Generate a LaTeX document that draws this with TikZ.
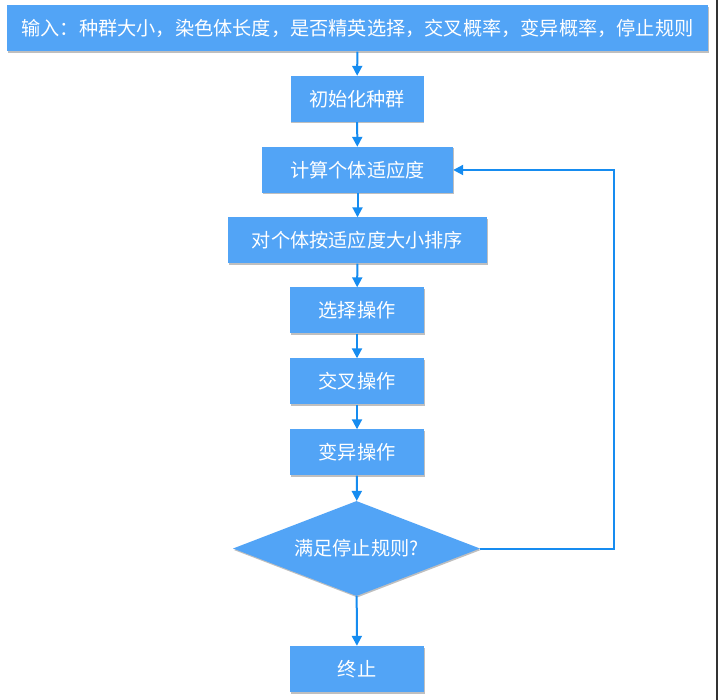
\documentclass[tikz,border=0pt]{standalone}
\usepackage{fontspec}
\newfontfamily\cjk{Noto Sans CJK SC}
\usetikzlibrary{shapes.geometric, arrows.meta, shadows}
\definecolor{boxblue}{RGB}{82,164,246}
\definecolor{lineblue}{RGB}{22,140,240}

\begin{document}
\begin{tikzpicture}[x=1pt, y=-1pt, font=\cjk\fontsize{19.2}{23}\selectfont,
    box/.style={rectangle, fill=boxblue, text=white, inner sep=0pt,
        minimum height=46pt,
        drop shadow={shadow xshift=0.8pt, shadow yshift=-1.5pt, opacity=0.25, fill=black}},
    decision/.style={diamond, aspect=2.6, fill=boxblue, text=white, inner sep=0pt,
        minimum width=247pt, minimum height=95pt,
        drop shadow={shadow xshift=0.8pt, shadow yshift=-1.5pt, opacity=0.25, fill=black}},
    arr/.style={draw=lineblue, line width=2pt, -{Triangle[width=10pt, length=10pt]}}]
    \useasboundingbox (0,0) rectangle (718,700);
    \fill[white] (0,0) rectangle (718,700);
    \fill[black!80] (716,0) rectangle (718,700);

    % Steps
    \node[box, minimum width=701pt] (input) at (357.5,28.5) {输入：种群大小，染色体长度，是否精英选择，交叉概率，变异概率，停止规则};
    \node[box, minimum width=133pt] (init) at (357,99) {初始化种群};
    \node[box, minimum width=191pt] (fit) at (357.5,170) {计算个体适应度};
    \node[box, minimum width=259pt] (sort) at (357.5,240.5) {对个体按适应度大小排序};
    \node[box, minimum width=134pt] (sel) at (357,310.5) {选择操作};
    \node[box, minimum width=134pt] (cross) at (357,381.5) {交叉操作};
    \node[box, minimum width=134pt] (mut) at (357,452.5) {变异操作};
    \node[decision] (stop) at (356.5,548.5) {满足停止规则?};
    \node[box, minimum width=134pt] (end) at (357,669) {终止};

    % Connections
    \draw[arr] (input) -- (init);
    \draw[arr] (init) -- (fit);
    \draw[arr] (fit) -- (sort);
    \draw[arr] (sort) -- (sel);
    \draw[arr] (sel) -- (cross);
    \draw[arr] (cross) -- (mut);
    \draw[arr] (mut) -- (stop);
    \draw[arr] (stop) -- (end);
    \draw[arr] (stop.east) -- ++(134,0) |- (fit.east);
\end{tikzpicture}
\end{document}
